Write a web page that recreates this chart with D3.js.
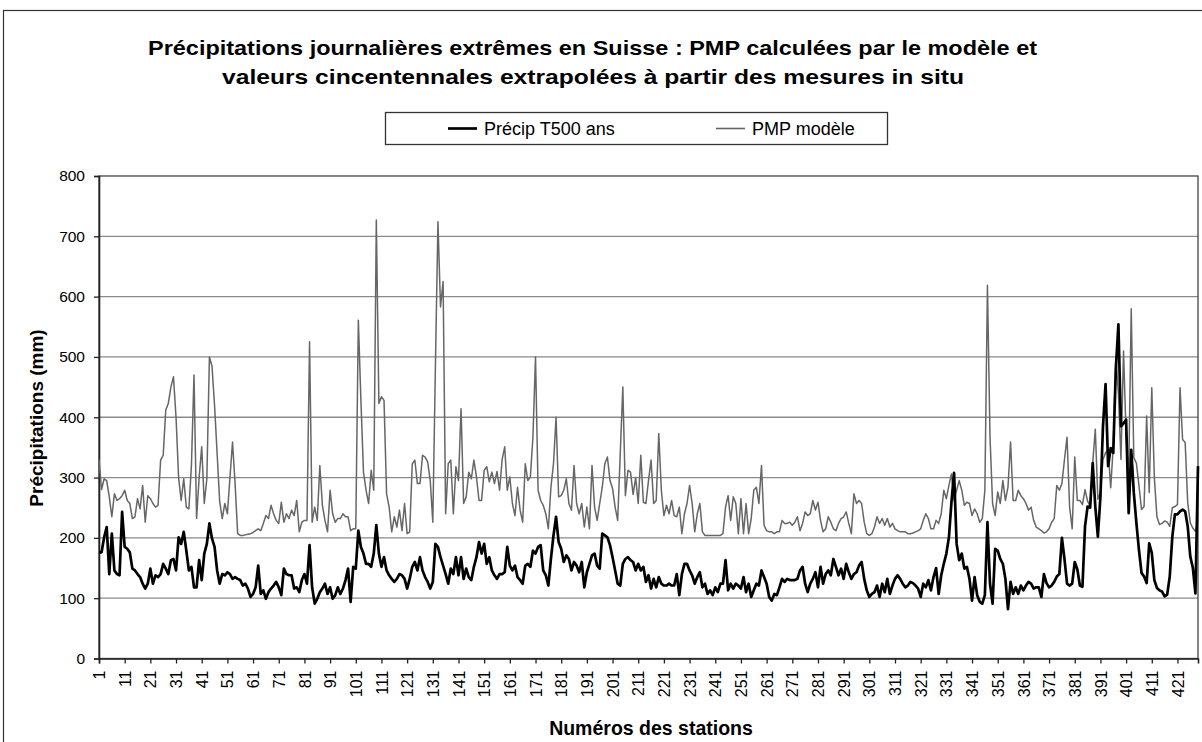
<!DOCTYPE html>
<html>
<head>
<meta charset="utf-8">
<script src="https://cdn.jsdelivr.net/npm/d3@7"></script>
<style>
  body { margin: 0; background: #fff; }
  text { font-family: "Liberation Sans", Arial, sans-serif; fill: #000; }
</style>
</head>
<body>
<svg id="chart" width="1202" height="742"></svg>
<script>
// station numbers 1..429 (x categories)
var stations = d3.range(1, 430);
var xTickLabels = d3.range(1, 430, 10);   // 1, 11, 21 ... 421
var yTicks = [0, 100, 200, 300, 400, 500, 600, 700, 800];

// PMP modèle (mm)
var pmp = [
  330,280,298,295,268,235,273,262,265,270, 279,262,257,232,235,265,248,287,226,270,
  265,257,251,254,329,337,412,423,450,467, 400,300,262,298,251,248,320,470,232,300,
  351,257,298,500,485,420,340,260,232,257, 240,300,359,290,207,204,204,205,206,207,
  209,212,215,212,224,237,232,254,240,229, 224,259,226,240,232,246,237,262,210,226,
  229,229,525,226,251,229,320,254,229,210, 279,240,226,232,232,240,235,235,212,215,
  215,561,428,309,279,257,312,279,727,423, 434,428,273,251,210,235,218,246,212,257,
  207,210,323,329,290,290,337,334,326,295, 226,480,724,583,625,240,323,329,240,318,
  295,414,257,268,309,298,329,301,262,262, 312,318,293,309,290,310,279,330,351,279,
  301,257,237,284,246,226,323,295,301,368, 500,279,262,254,240,215,284,323,400,268,
  270,279,298,257,246,320,257,240,257,218, 251,215,320,251,229,257,284,323,334,295,
  282,251,229,340,450,270,312,309,272,300, 257,337,259,257,295,329,257,262,373,279,
  237,254,240,262,237,235,251,207,240,257, 287,257,210,240,257,210,204,204,204,204,
  204,204,204,207,251,270,229,268,257,207, 265,207,257,207,232,279,284,257,320,221,
  212,210,210,207,210,210,229,224,224,226, 221,226,235,212,224,243,237,240,262,246,
  259,229,210,215,235,226,215,212,224,232, 235,243,224,207,273,257,262,257,226,207,
  204,207,218,235,224,232,221,232,218,224, 215,212,210,210,210,207,207,208,210,212,
  215,229,240,232,215,215,229,224,240,279, 265,287,306,262,279,295,279,254,259,257,
  237,248,240,226,232,279,619,367,257,237, 276,257,295,262,284,359,262,262,279,270,
  265,257,246,251,229,218,215,212,208,210, 215,226,232,287,279,290,330,367,251,215,
  334,262,262,255,280,261,252,324,380,264, 275,330,341,346,283,352,500,440,330,510,
  370,300,580,333,324,287,247,252,402,275, 449,300,235,222,224,228,226,219,250,252,
  255,449,363,358,258,225,216,211,230
];

// Précip T500 ans (mm)
var t500 = [
  176,176,201,218,140,207,146,140,138,243, 185,182,176,149,146,140,135,124,116,124,
  149,124,138,135,140,157,149,140,163,165, 146,201,190,210,179,146,152,118,118,163,
  130,174,190,224,199,185,146,124,140,138, 143,140,132,135,132,130,121,124,116,102,
  107,118,154,107,113,99,110,116,121,127,  118,105,149,140,138,138,116,118,110,130,
  140,124,188,118,91,99,110,116,124,107,   118,99,105,118,107,116,130,149,94,152,
  149,212,185,174,157,157,152,174,221,174, 152,168,146,138,132,127,132,140,138,132,
  116,132,152,160,146,168,146,135,127,116, 127,190,185,168,154,140,124,149,140,168,
  138,168,132,149,135,130,152,168,193,174, 190,157,168,146,138,132,140,140,143,185,
  154,146,154,135,130,124,154,157,152,179, 174,185,188,146,138,121,165,204,235,193,
  182,160,171,165,146,160,154,143,160,118, 143,157,171,174,154,149,207,204,201,188,
  168,146,124,121,157,165,168,163,160,146, 157,146,152,127,138,116,132,118,135,124,
  121,121,124,121,121,140,105,140,157,157, 146,138,124,135,143,118,124,107,113,105,
  118,110,124,124,163,113,124,116,124,121, 116,135,110,124,102,113,124,121,146,135,
  124,102,96,107,105,118,132,127,132,130,  130,130,132,146,152,124,110,124,132,143,
  118,152,124,140,146,138,165,152,138,149, 132,157,143,132,140,143,154,160,132,113,
  102,107,110,121,102,124,110,132,107,121, 132,138,132,124,118,121,127,125,121,116,
  102,124,118,130,113,135,150,107,138,157, 174,201,260,308,190,163,174,149,152,132,
  96,135,105,94,91,105,226,124,91,182,     179,165,157,132,82,127,107,118,107,121,
  113,121,127,124,116,118,118,102,140,125, 118,121,127,136,140,200,165,124,121,124,
  160,148,121,119,219,252,250,324,252,202, 268,385,455,319,349,341,480,554,385,390,
  396,241,346,275,225,180,142,136,125,191, 175,130,117,113,111,103,106,136,202,239,
  239,244,247,244,219,169,150,108,319
];

var seriesNames = ["Précip T500 ans", "PMP modèle"];

var svg = d3.select("#chart");

// outer frame of the chart object
svg.append("rect")
    .attr("x", 3.5).attr("y", 10.5)
    .attr("width", 1210).attr("height", 760)
    .attr("fill", "none").attr("stroke", "#333").attr("stroke-width", 1.2);

// scales
var x = d3.scaleLinear().domain([1, stations.length]).range([99, 1198]);
var y = d3.scaleLinear().domain([0, 800]).range([658.5, 176]);

// title (two lines, stretched to the widths seen in the picture)
var title = svg.append("g").style("font-weight", "bold").style("font-size", "21px");
title.append("text").attr("x", 148).attr("y", 55)
    .attr("textLength", 889).attr("lengthAdjust", "spacingAndGlyphs")
    .text("Précipitations journalières extrêmes en Suisse : PMP calculées par le modèle et");
title.append("text").attr("x", 222).attr("y", 84)
    .attr("textLength", 742).attr("lengthAdjust", "spacingAndGlyphs")
    .text("valeurs cincentennales extrapolées à partir des mesures in situ");

// gridlines
svg.append("g").selectAll("line")
    .data(yTicks.filter(d => d > 0 && d < 800)).enter()
    .append("line")
    .attr("x1", 99).attr("x2", 1198)
    .attr("y1", d => y(d)).attr("y2", d => y(d))
    .attr("stroke", "#8a8a8a").attr("stroke-width", 1.3);

// plot border
svg.append("rect")
    .attr("x", 99).attr("y", y(800))
    .attr("width", 1198 - 99).attr("height", y(0) - y(800))
    .attr("fill", "none").attr("stroke", "#444").attr("stroke-width", 1.3);

// y axis
var yAxis = svg.append("g")
    .attr("transform", "translate(99,0)")
    .call(d3.axisLeft(y).tickValues(yTicks).tickSize(5).tickPadding(9));
yAxis.select(".domain").attr("stroke", "#222").attr("stroke-width", 1.6);
yAxis.selectAll(".tick line").attr("stroke", "#222").attr("stroke-width", 1.3);
yAxis.selectAll("text")
    .style("font-size", "15.5px")
    .style("font-family", "'Liberation Sans', Arial, sans-serif")
    .attr("fill", "#000");

// x axis
var xAxis = svg.append("g")
    .attr("transform", "translate(0," + y(0) + ")")
    .call(d3.axisBottom(x).tickValues(xTickLabels).tickSize(5).tickFormat(d3.format("d")));
xAxis.select(".domain").attr("stroke", "#222").attr("stroke-width", 1.6);
xAxis.selectAll(".tick line").attr("stroke", "#222").attr("stroke-width", 1.3);
xAxis.selectAll("text")
    .style("font-size", "16px")
    .style("font-family", "'Liberation Sans', Arial, sans-serif")
    .attr("fill", "#000")
    .attr("text-anchor", "end")
    .attr("transform", "rotate(-90)")
    .attr("x", -12).attr("y", 0)
    .attr("dy", "0.35em");

// axis titles
svg.append("text")
    .attr("transform", "translate(43,418) rotate(-90)")
    .attr("text-anchor", "middle")
    .style("font-weight", "bold").style("font-size", "19px")
    .text("Précipitations (mm)");
svg.append("text")
    .attr("x", 651).attr("y", 735)
    .attr("text-anchor", "middle")
    .style("font-weight", "bold").style("font-size", "19.5px")
    .text("Numéros des stations");

// lines
var line = d3.line()
    .x((d, i) => x(stations[i]))
    .y(d => y(d));

svg.append("path")
    .datum(pmp)
    .attr("d", line)
    .attr("fill", "none")
    .attr("stroke", "#666")
    .attr("stroke-width", 1.5)
    .attr("stroke-linejoin", "round");

svg.append("path")
    .datum(t500)
    .attr("d", line)
    .attr("fill", "none")
    .attr("stroke", "#000")
    .attr("stroke-width", 2.7)
    .attr("stroke-linejoin", "round");

// legend
var legend = svg.append("g");
legend.append("rect")
    .attr("x", 385.5).attr("y", 112.5)
    .attr("width", 502).attr("height", 32)
    .attr("fill", "#fff").attr("stroke", "#333").attr("stroke-width", 1.3);
var legendItems = [
  { name: seriesNames[0], x: 448, color: "#000", w: 2.7 },
  { name: seriesNames[1], x: 716, color: "#666", w: 1.6 }
];
legendItems.forEach(function(it) {
  legend.append("line")
      .attr("x1", it.x).attr("x2", it.x + 29)
      .attr("y1", 128.5).attr("y2", 128.5)
      .attr("stroke", it.color).attr("stroke-width", it.w);
  legend.append("text")
      .attr("x", it.x + 36).attr("y", 135)
      .style("font-size", "18px")
      .text(it.name);
});
</script>
</body>
</html>
